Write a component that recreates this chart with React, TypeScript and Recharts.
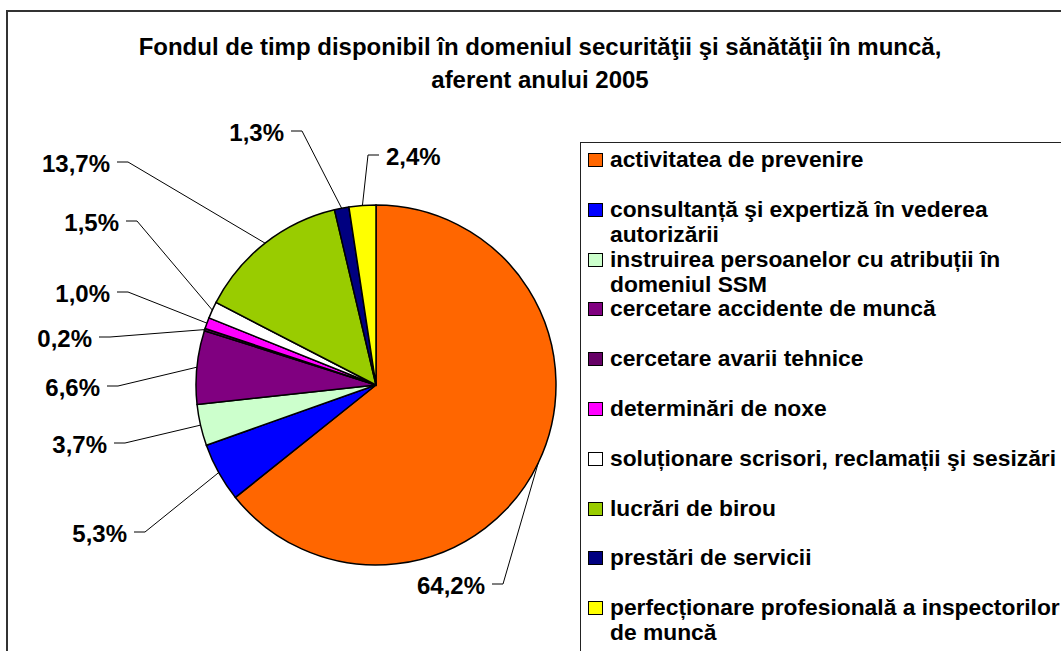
import React from 'react';
import { PieChart, Pie, Cell, Legend } from 'recharts';

const titleLines = [
  'Fondul de timp disponibil în domeniul securităţii şi sănătăţii în muncă,',
  'aferent anului 2005',
];

const categories = [
  'activitatea de prevenire',
  'consultanță şi expertiză în vederea autorizării',
  'instruirea persoanelor cu atribuții în domeniul SSM',
  'cercetare accidente de muncă',
  'cercetare avarii tehnice',
  'determinări de noxe',
  'soluționare scrisori, reclamații şi sesizări',
  'lucrări de birou',
  'prestări de servicii',
  'perfecționare profesională a inspectorilor de muncă',
];

const values = [64.2, 5.3, 3.7, 6.6, 0.2, 1.0, 1.5, 13.7, 1.3, 2.4];

const colors = [
  '#FF6600',
  '#0000FF',
  '#CCFFCC',
  '#800080',
  '#660066',
  '#FF00FF',
  '#FFFFFF',
  '#99CC00',
  '#000080',
  '#FFFF00',
];

// label leader-line elbow offsets relative to pie centre, and side of text
const LABEL_ELBOWS: [number, number, number][] = [
  [127, 199, -1],
  [-231, 147, -1],
  [-251, 58, -1],
  [-258, 1, -1],
  [-266, -48, -1],
  [-248, -93, -1],
  [-239, -164, -1],
  [-248, -223, -1],
  [-74, -254, -1],
  [-8, -230, 1],
];

const FONT = '"Liberation Sans", Arial, Helvetica, sans-serif';
const RAD = Math.PI / 180;

const data = categories.map((name, i) => ({ name, value: values[i] }));

const fmt = (v: number) => v.toFixed(1).replace('.', ',') + '%';

const renderLabel = (props: any) => {
  const { cx, cy, midAngle, outerRadius, index } = props;
  const sx = cx + outerRadius * Math.cos(-midAngle * RAD);
  const sy = cy + outerRadius * Math.sin(-midAngle * RAD);
  const [dx, dy, dir] = LABEL_ELBOWS[index];
  const ex = cx + dx;
  const ey = cy + dy;
  const hx = ex + dir * 11;
  const tx = hx + dir * 7;
  return (
    <g key={`lbl-${index}`}>
      <polyline
        points={`${sx},${sy} ${ex},${ey} ${hx},${ey}`}
        fill="none"
        stroke="#000"
        strokeWidth={1}
      />
      <text
        x={tx}
        y={ey + 1}
        textAnchor={dir < 0 ? 'end' : 'start'}
        dominantBaseline="central"
        fontFamily={FONT}
        fontWeight="bold"
        fontSize={24}
        fill="#000"
      >
        {fmt(values[index])}
      </text>
    </g>
  );
};

const renderLegend = () => (
  <div
    style={{
      position: 'relative',
      width: 700,
      height: 700,
      border: '1px solid #222',
      boxSizing: 'border-box',
      background: '#fff',
      fontFamily: FONT,
    }}
  >
    {categories.map((c, i) => (
      <div
        key={c}
        style={{ position: 'absolute', left: 0, top: 4 + i * 49.8, width: 700 }}
      >
        <span
          style={{
            position: 'absolute',
            left: 7,
            top: 6,
            width: 15,
            height: 14,
            boxSizing: 'border-box',
            background: colors[i],
            border: '1px solid #000',
          }}
        />
        <span
          style={{
            position: 'absolute',
            left: 29,
            top: 0,
            width: 455,
            fontSize: 22.8,
            lineHeight: '25px',
            fontWeight: 'bold',
            color: '#000',
            whiteSpace: 'normal',
          }}
        >
          {c}
        </span>
      </div>
    ))}
  </div>
);

export default function App() {
  return (
    <div
      style={{
        position: 'fixed',
        left: 0,
        top: 0,
        width: 1061,
        height: 651,
        overflow: 'hidden',
        background: '#fff',
      }}
    >
      <div
        style={{
          position: 'absolute',
          left: 6,
          top: 10,
          width: 1200,
          height: 800,
          border: '2px solid #333',
        }}
      />
      <div
        style={{
          position: 'absolute',
          left: 0,
          top: 30,
          width: 1080,
          textAlign: 'center',
          fontFamily: FONT,
          fontWeight: 'bold',
          fontSize: 24,
          lineHeight: '33px',
          color: '#000',
        }}
      >
        {titleLines.map((t) => (
          <div key={t}>{t}</div>
        ))}
      </div>
      <div style={{ position: 'absolute', left: 0, top: 0 }}>
        <PieChart width={1061} height={651} margin={{ top: 0, right: 0, bottom: 0, left: 0 }}>
          <Pie
            data={data}
            dataKey="value"
            nameKey="name"
            cx={376}
            cy={385}
            outerRadius={180}
            innerRadius={0}
            startAngle={90}
            endAngle={-270}
            stroke="#000"
            strokeWidth={1.5}
            label={renderLabel}
            labelLine={false}
            isAnimationActive={false}
          >
            {data.map((d, i) => (
              <Cell key={d.name} fill={colors[i]} />
            ))}
          </Pie>
          <Legend
            content={renderLegend}
            wrapperStyle={{ position: 'absolute', left: 580, top: 142, width: 700, height: 700 }}
          />
        </PieChart>
      </div>
    </div>
  );
}
